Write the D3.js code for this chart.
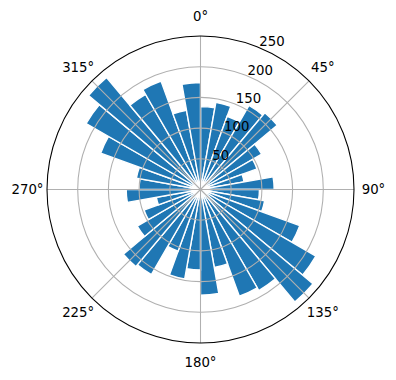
<!DOCTYPE html>
<html>
<head>
<meta charset="utf-8">
<script src="https://cdn.jsdelivr.net/npm/d3@7"></script>
<style>
  html, body { margin: 0; padding: 0; background: #fff; }
  svg text { font-family: "DejaVu Sans", sans-serif; font-size: 13.3px; fill: #000; }
</style>
</head>
<body>
<svg id="chart" width="396" height="380"></svg>
<script>
// Bars: 36 sectors of 10°, starting at 0° (north), clockwise
const binStartsDeg = d3.range(0, 360, 10);
const counts = [135, 144, 127, 158, 163, 115, 98, 72, 120,
                96, 106, 172, 217, 239, 190, 185, 129, 172,
                131, 148, 107, 160, 164, 119, 98, 73, 121,
                100, 106, 173, 215, 238, 179, 188, 131, 174];
const radialTicks = [50, 100, 150, 200, 250];
const angleTicks = [0, 45, 90, 135, 180, 225, 270, 315];
const angleLabels = ["0°", "45°", "90°", "135°", "180°", "225°", "270°", "315°"];

const svg = d3.select("#chart");
const cx = 200.5, cy = 189.5, R = 153.5;
const g = svg.append("g").attr("transform", `translate(${cx},${cy})`);

const r = d3.scaleLinear().domain([0, 250]).range([0, R]);
const theta = d3.scaleLinear().domain([0, 360]).range([0, 2 * Math.PI]);
const binWidth = 10;

const arc = d3.arc()
  .innerRadius(0)
  .outerRadius(d => r(d.v))
  .startAngle(d => theta(d.a))
  .endAngle(d => theta(d.a + binWidth));

const data = binStartsDeg.map((a, i) => ({ a, v: counts[i] }));

g.selectAll("path.bar").data(data).enter().append("path")
  .attr("class", "bar")
  .attr("d", arc)
  .attr("fill", "#1f77b4")
  .attr("stroke", "#fff")
  .attr("stroke-width", 1.4)
  .attr("stroke-linejoin", "miter");

// grid circles
g.selectAll("circle.grid").data(radialTicks.slice(0, -1)).enter().append("circle")
  .attr("r", d => r(d))
  .attr("fill", "none")
  .attr("stroke", "#b0b0b0")
  .attr("stroke-width", 1.07);

// spokes
g.selectAll("line.spoke").data(angleTicks).enter().append("line")
  .attr("x1", 0).attr("y1", 0)
  .attr("x2", d => R * Math.sin(theta(d)))
  .attr("y2", d => -R * Math.cos(theta(d)))
  .attr("stroke", "#b0b0b0")
  .attr("stroke-width", 1.07);

// outer spine
g.append("circle").attr("r", R).attr("fill", "none")
  .attr("stroke", "#000").attr("stroke-width", 1.07);

// angle labels
const labR = 173;
g.selectAll("text.ang").data(angleTicks).enter().append("text")
  .attr("x", d => labR * Math.sin(theta(d)))
  .attr("y", d => -labR * Math.cos(theta(d)))
  .attr("text-anchor", "middle")
  .attr("dy", "0.36em")
  .text((d, i) => angleLabels[i]);

// radial labels at 22.5°
const rlAng = theta(22.5);
g.selectAll("text.rad").data(radialTicks).enter().append("text")
  .attr("x", d => r(d) * Math.sin(rlAng))
  .attr("y", d => -r(d) * Math.cos(rlAng) - 1.5)
  .attr("text-anchor", "start")
  .text(d => d);
</script>
</body>
</html>
